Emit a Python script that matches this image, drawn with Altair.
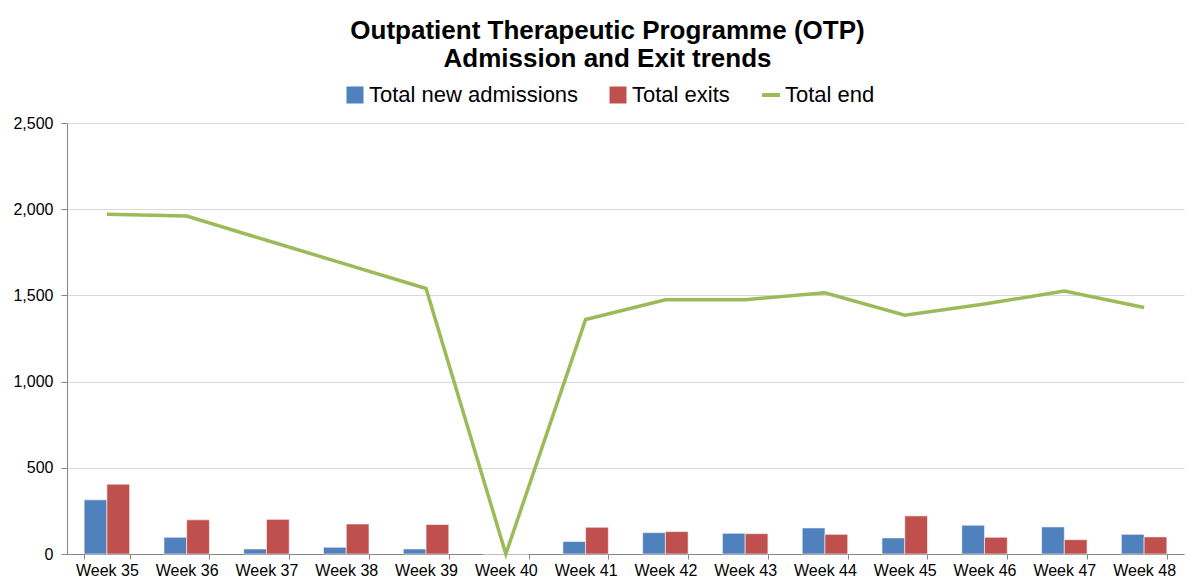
import altair as alt
import pandas as pd

weeks = ["Week 35", "Week 36", "Week 37", "Week 38", "Week 39", "Week 40", "Week 41",
         "Week 42", "Week 43", "Week 44", "Week 45", "Week 46", "Week 47", "Week 48"]
new_admissions = [314, 97, 29, 39, 29, 0, 72, 124, 120, 151, 93, 167, 157, 114]
total_exits = [405, 198, 201, 174, 171, 0, 155, 130, 118, 114, 221, 97, 83, 99]
total_end = [1970, 1960, 1820, 1680, 1540, 0, 1360, 1475, 1475, 1515, 1385, 1450, 1525, 1430]
y_ticks = [0, 500, 1000, 1500, 2000, 2500]

bar_series = ["Total new admissions", "Total exits"]
line_series = ["Total end"]
bar_colors = ["#4F81BD", "#C0504D"]
line_color = "#9BBB59"

rows = []
for i, w in enumerate(weeks):
    rows.append({"week": w, "series": bar_series[0], "value": new_admissions[i]})
    rows.append({"week": w, "series": bar_series[1], "value": total_exits[i]})
bars_df = pd.DataFrame(rows)
line_df = pd.DataFrame({"week": weeks, "lseries": line_series[0], "value": total_end})

FONT = "Liberation Sans"

x_enc = alt.X(
    "week:N", sort=weeks,
    scale=alt.Scale(paddingInner=0.43, paddingOuter=0.215),
    axis=alt.Axis(title=None, labelAngle=0, tickBand="extent", labelFontSize=16,
                  labelFont=FONT, labelColor="#000000", domainColor="#868686",
                  tickColor="#868686", tickSize=5, labelPadding=3, grid=False),
)
y_enc = alt.Y(
    "value:Q",
    scale=alt.Scale(domain=[0, 2500], nice=False),
    axis=alt.Axis(title=None, values=y_ticks, format=",.0f",
                  labelFontSize=16, labelFont=FONT, labelColor="#000000",
                  domainColor="#868686", tickColor="#868686", tickSize=6,
                  labelPadding=8, grid=True, gridColor="#D9D9D9"),
)

bars = alt.Chart(bars_df).mark_bar(stroke="#FFFFFF", strokeWidth=0.8, strokeOpacity=0.7).encode(
    x=x_enc,
    xOffset=alt.XOffset("series:N", sort=bar_series,
                        scale=alt.Scale(paddingInner=0, paddingOuter=0)),
    y=y_enc,
    color=alt.Color(
        "series:N",
        scale=alt.Scale(domain=bar_series, range=bar_colors),
        legend=alt.Legend(orient="none", legendX=277, legendY=-39, direction="horizontal",
                          title=None, symbolType="square", symbolSize=289,
                          symbolStrokeWidth=0, labelFontSize=22, labelFont=FONT,
                          labelColor="#000000", labelOffset=3, columnPadding=28,
                          labelLimit=500),
    ),
)

line = alt.Chart(line_df).mark_line(strokeWidth=3.5).encode(
    x=alt.X("week:N", sort=weeks),
    y=alt.Y("value:Q"),
    stroke=alt.Stroke(
        "lseries:N",
        scale=alt.Scale(domain=line_series, range=[line_color]),
        legend=alt.Legend(orient="none", legendX=693, legendY=-39, direction="horizontal",
                          title=None, symbolType="stroke", symbolSize=324,
                          symbolStrokeWidth=4, labelFontSize=22, labelFont=FONT,
                          labelColor="#000000", labelOffset=3, labelLimit=500),
    ),
)

chart = alt.layer(bars, line).properties(
    width=1117,
    height=431,
    autosize=alt.AutoSizeParams(type="none"),
    padding={"left": 59, "top": 115, "right": 4, "bottom": 24},
    title=alt.TitleParams(
        text=["Outpatient Therapeutic Programme (OTP)", "Admission and Exit trends"],
        font=FONT, fontSize=26, fontWeight="bold", color="#000000",
        anchor="middle", frame="group", dx=-18, offset=12, lineHeight=28,
    ),
).configure_view(stroke=None)

chart.save("out.html", embed_options={"renderer": "svg", "actions": False})
